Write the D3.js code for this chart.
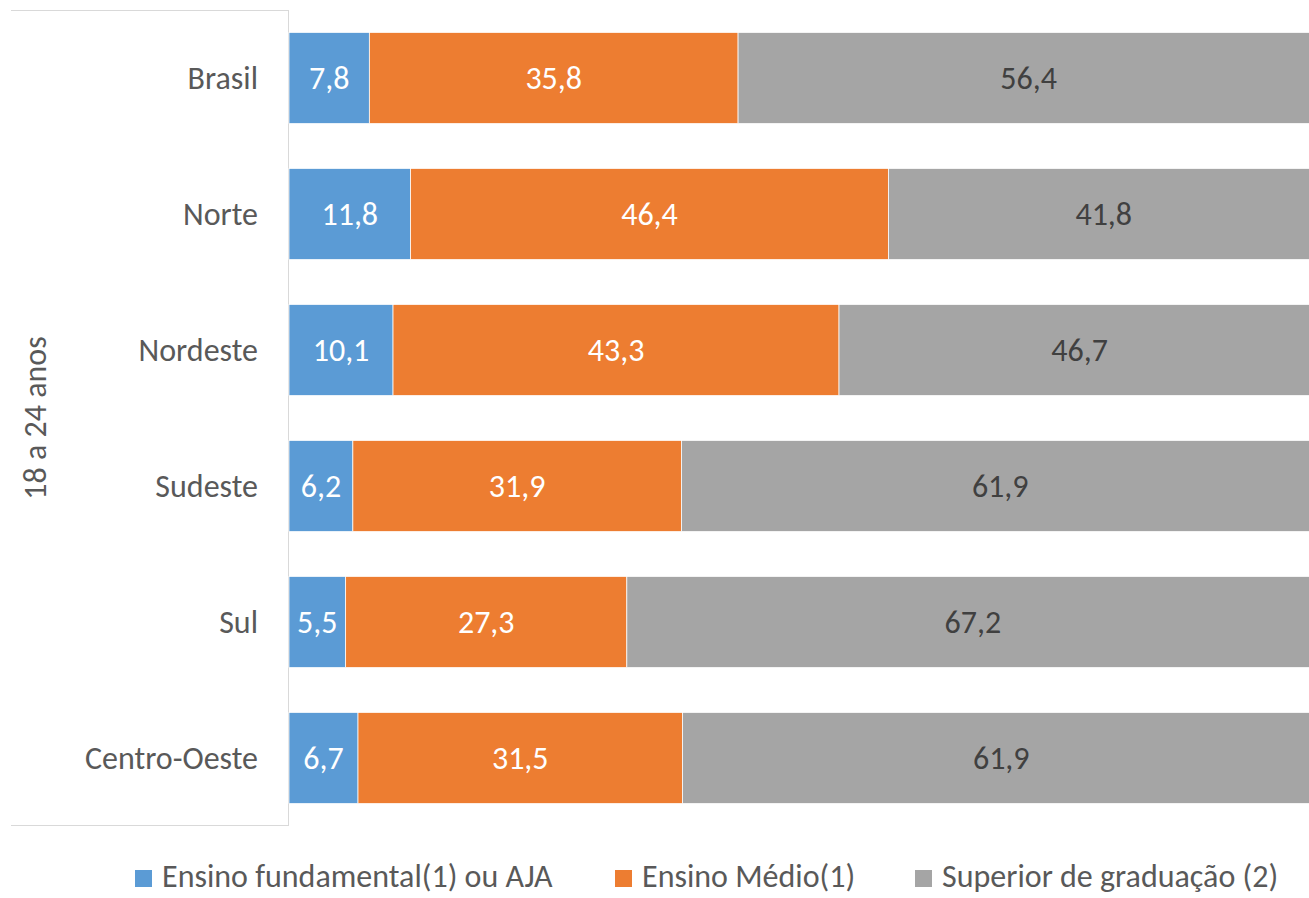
<!DOCTYPE html>
<html lang="pt">
<head>
<meta charset="UTF-8" />
<title>18 a 24 anos</title>
<script src="https://cdn.jsdelivr.net/npm/d3@7"></script>
<style>
    body { margin: 0; background: #fff; overflow: hidden; }
    svg text { font-family: Carlito, Calibri, Lato, 'Open Sans', sans-serif; }
</style>
</head>
<body>
<div id="chart"></div>
<script>
const regions = ['Brasil', 'Norte', 'Nordeste', 'Sudeste', 'Sul', 'Centro-Oeste']
const fundamental = [7.8, 11.8, 10.1, 6.2, 5.5, 6.7]
const medio = [35.8, 46.4, 43.3, 31.9, 27.3, 31.5]
const superior = [56.4, 41.8, 46.7, 61.9, 67.2, 61.9]
const seriesNames = ['Ensino fundamental(1) ou AJA', 'Ensino Médio(1)', 'Superior de graduação (2)']
const groupLabel = '18 a 24 anos'

const width = 1309
const height = 898
const fontSize = '32px'
const colors = ['#5B9BD5', '#ED7D31', '#A5A5A5']
const labelColors = ['#fff', '#fff', '#404040']

const svg = d3.select('#chart').append('svg').attr('width', width).attr('height', height)

const rows = regions.map((r, i) => ({ region: r, v: [fundamental[i], medio[i], superior[i]] }))

const x = d3.scaleLinear().domain([0, 100]).range([289, 1319])
const y = d3.scaleBand().domain(regions).range([10, 826]).paddingInner(0.33).paddingOuter(0.165)

// category box lines
const axisColor = '#D9D9D9'
svg.append('line').attr('x1', 11).attr('x2', 288.5).attr('y1', 10.5).attr('y2', 10.5).attr('stroke', axisColor)
svg.append('line').attr('x1', 11).attr('x2', 288.5).attr('y1', 825.5).attr('y2', 825.5).attr('stroke', axisColor)
svg.append('line').attr('x1', 288.5).attr('x2', 288.5).attr('y1', 10).attr('y2', 826).attr('stroke', axisColor)

// stacked bars
rows.forEach((row) => {
    let acc = 0
    row.v.forEach((val, k) => {
        const x0 = x(acc)
        const x1 = x(acc + val)
        svg.append('rect')
            .attr('x', x0)
            .attr('y', y(row.region))
            .attr('width', x1 - x0)
            .attr('height', y.bandwidth())
            .attr('fill', colors[k])
            .attr('stroke', '#fff')
            .attr('stroke-width', 0.75)
        svg.append('text')
            .attr('x', (x0 + x1) / 2)
            .attr('y', y(row.region) + y.bandwidth() / 2)
            .attr('dy', '0.35em')
            .attr('text-anchor', 'middle')
            .attr('fill', labelColors[k])
            .style('font-size', fontSize)
            .text(d3.format('.1f')(val).replace('.', ','))
        acc += val
    })
})

// region labels
svg.selectAll('.region')
    .data(regions)
    .enter()
    .append('text')
    .attr('class', 'region')
    .attr('x', 258)
    .attr('y', (d) => y(d) + y.bandwidth() / 2)
    .attr('dy', '0.35em')
    .attr('text-anchor', 'end')
    .attr('fill', '#595959')
    .style('font-size', fontSize)
    .text((d) => d)

svg.append('text')
    .attr('transform', `translate(35,${(10 + 826) / 2}) rotate(-90)`)
    .attr('dy', '0.35em')
    .attr('text-anchor', 'middle')
    .attr('fill', '#595959')
    .style('font-size', fontSize)
    .text(groupLabel)

// legend
const legendX = [135, 615, 915]
const legend = svg.selectAll('.legend')
    .data(seriesNames)
    .enter()
    .append('g')
    .attr('class', 'legend')
    .attr('transform', (d, i) => `translate(${legendX[i]},0)`)
legend.append('rect').attr('x', 0).attr('y', 870).attr('width', 17).attr('height', 17).attr('fill', (d, i) => colors[i])
legend.append('text')
    .attr('x', 27)
    .attr('y', 887)
    .attr('fill', '#595959')
    .style('font-size', fontSize)
    .text((d) => d)
</script>
</body>
</html>
